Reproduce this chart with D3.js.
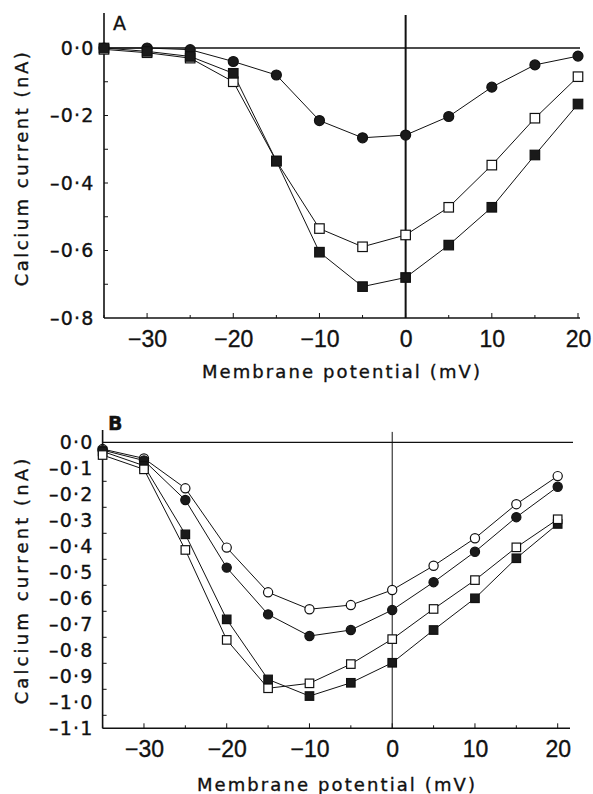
<!DOCTYPE html>
<html>
<head>
<meta charset="utf-8">
<script src="https://d3js.org/d3.v7.min.js"></script>
<style>
  body { margin: 0; background: #fff; }
  text { font-family: "DejaVu Sans", sans-serif; fill: #111; stroke: #111; stroke-width: 0.35px; }
</style>
</head>
<body>
<svg id="fig" width="593" height="794"></svg>
<script>
// membrane potential (mV), shared by every series
const potentials = [-35, -30, -25, -20, -15, -10, -5, 0, 5, 10, 15, 20];

// panel A, calcium current (nA)
const aCircles   = [0.0, 0.0, -0.005, -0.04, -0.08, -0.215, -0.266, -0.258, -0.203, -0.116, -0.05, -0.024];
const aOpenSq    = [-0.004, -0.014, -0.03, -0.1, -0.335, -0.535, -0.589, -0.554, -0.472, -0.347, -0.208, -0.085];
const aFilledSq  = [0.0, -0.01, -0.025, -0.075, -0.335, -0.605, -0.707, -0.68, -0.584, -0.472, -0.317, -0.166];

// panel B, calcium current (nA)
const bOpenCirc  = [-0.026, -0.062, -0.177, -0.405, -0.577, -0.642, -0.626, -0.568, -0.475, -0.369, -0.238, -0.13];
const bFillCirc  = [-0.03, -0.07, -0.222, -0.482, -0.662, -0.745, -0.722, -0.645, -0.538, -0.421, -0.288, -0.171];
const bFilledSq  = [-0.035, -0.09, -0.354, -0.681, -0.912, -0.976, -0.925, -0.848, -0.722, -0.6, -0.446, -0.314];
const bOpenSq    = [-0.049, -0.104, -0.414, -0.76, -0.946, -0.927, -0.853, -0.757, -0.641, -0.53, -0.404, -0.296];

const xTicks = [-30, -20, -10, 0, 10, 20];
const xMinor = [-35, -25, -15, -5, 5, 15];
const aYTicks = [0, -0.2, -0.4, -0.6, -0.8];
const bYTicks = [0, -0.1, -0.2, -0.3, -0.4, -0.5, -0.6, -0.7, -0.8, -0.9, -1.0, -1.1];

const svg = d3.select("#fig");
const fmt = v => (v < 0 ? "\u2013" : "") + Math.abs(v).toFixed(1).replace(".", "\u00b7");
const fmtX = v => (v < 0 ? "\u2212" : "") + Math.abs(v);

function panel(cfg) {
  const g = svg.append("g");
  const x = d3.scaleLinear().domain([-35, 20]).range(cfg.xr);
  const y = d3.scaleLinear().domain([0, cfg.ymin]).range(cfg.yr);

  // axes lines
  g.append("line").attr("x1", x(-35)).attr("x2", x(-35))
    .attr("y1", y(cfg.ytop)).attr("y2", y(cfg.ymin))
    .attr("stroke", "#111").attr("stroke-width", 1.6);
  g.append("line").attr("x1", x(-35)).attr("x2", cfg.xend)
    .attr("y1", y(cfg.ymin)).attr("y2", y(cfg.ymin))
    .attr("stroke", "#111").attr("stroke-width", 1.6);

  // zero lines
  g.append("line").attr("x1", x(-35)).attr("x2", cfg.zeroEnd)
    .attr("y1", y(0)).attr("y2", y(0))
    .attr("stroke", "#111").attr("stroke-width", cfg.zw);
  g.append("line").attr("x1", x(0)).attr("x2", x(0))
    .attr("y1", y(cfg.vtop)).attr("y2", y(cfg.ymin))
    .attr("stroke", "#111").attr("stroke-width", cfg.vw);

  // y axis
  const ya = d3.axisLeft(y).tickValues(cfg.yTicks).tickFormat(fmt).tickSize(0).tickPadding(cfg.ypad);
  const yg = g.append("g").attr("transform", `translate(${x(-35)},0)`).call(ya);
  yg.select(".domain").remove();
  yg.selectAll("text").style("font-size", "19px").style("letter-spacing", "1.2px")
    .style("font-family", "DejaVu Sans, sans-serif").attr("fill", "#111");
  g.selectAll(".ytk").data(cfg.yTickMarks).join("line")
    .attr("x1", x(-35)).attr("x2", x(-35) + 4)
    .attr("y1", d => y(d)).attr("y2", d => y(d))
    .attr("stroke", "#111").attr("stroke-width", 1);

  // x axis
  const xa = d3.axisBottom(x).tickValues(xTicks).tickFormat(fmtX).tickSize(0).tickPadding(12.5);
  const xg = g.append("g").attr("transform", `translate(0,${y(cfg.ymin)})`).call(xa);
  xg.select(".domain").remove();
  xg.selectAll("text").style("font-size", "23px")
    .style("font-family", "Liberation Sans, Arial, sans-serif").attr("fill", "#111");
  g.selectAll(".xtk").data(xTicks.concat(xMinor)).join("line")
    .attr("x1", d => x(d)).attr("x2", d => x(d))
    .attr("y1", y(cfg.ymin)).attr("y2", d => y(cfg.ymin) - (xTicks.includes(d) ? 5 : 3))
    .attr("stroke", "#111").attr("stroke-width", 1);

  // titles
  g.append("text").attr("x", cfg.xtitle[0]).attr("y", cfg.xtitle[1])
    .attr("text-anchor", "middle").style("font-size", "18px").style("letter-spacing", "2.1px")
    .text("Membrane potential (mV)");
  g.append("text")
    .attr("transform", `translate(${cfg.ytitle[0]},${cfg.ytitle[1]}) rotate(-90)`)
    .attr("text-anchor", "middle").style("font-size", "18px").style("letter-spacing", cfg.yls + "px")
    .text("Calcium current (nA)");
  g.append("text").attr("x", cfg.lab[0]).attr("y", cfg.lab[1])
    .style("font-size", "19px").style("font-weight", cfg.labW).text(cfg.label);

  // series
  const line = d3.line().x((d, i) => x(potentials[i])).y(d => y(d));
  cfg.series.forEach(s => {
    g.append("path").datum(s.values).attr("d", line)
      .attr("fill", "none").attr("stroke", "#111").attr("stroke-width", 1);
  });
  cfg.series.forEach(s => {
    const fill = s.open ? "#fff" : "#1a1a1a";
    if (s.shape === "circle") {
      g.selectAll(null).data(s.values).join("circle")
        .attr("cx", (d, i) => x(potentials[i])).attr("cy", d => y(d))
        .attr("r", cfg.r).attr("fill", fill).attr("stroke", "#111").attr("stroke-width", 1.2);
    } else {
      g.selectAll(null).data(s.values).join("rect")
        .attr("x", (d, i) => x(potentials[i]) - cfg.sq / 2).attr("y", d => y(d) - cfg.sq / 2)
        .attr("width", cfg.sq).attr("height", cfg.sq)
        .attr("fill", fill).attr("stroke", "#111").attr("stroke-width", 1.2);
    }
  });
}

panel({
  label: "A", lab: [113, 30], labW: "normal",
  xr: [104, 578], yr: [48, 318], ymin: -0.8, ytop: 0.104, vtop: 0.098,
  xend: 580, zeroEnd: 580, zw: 1.5, vw: 2,
  yTicks: aYTicks, yTickMarks: [-0.1, -0.2, -0.3, -0.4, -0.5, -0.6, -0.7],
  ypad: 9.5,
  xtitle: [342, 378], ytitle: [28, 168], yls: 2.5,
  r: 5, sq: 9.5,
  series: [
    { values: aCircles, shape: "circle", open: false },
    { values: aOpenSq, shape: "square", open: true },
    { values: aFilledSq, shape: "square", open: false }
  ]
});

panel({
  label: "B", lab: [108, 430], labW: "bold",
  xr: [102.6, 557.7], yr: [442.3, 728.3], ymin: -1.1, ytop: 0.047, vtop: 0.04,
  xend: 570, zeroEnd: 573, zw: 1.2, vw: 1,
  yTicks: bYTicks, yTickMarks: [-0.05, -0.15, -0.25, -0.35, -0.45, -0.55, -0.65, -0.75, -0.85, -0.95, -1.05],
  ypad: 9,
  xtitle: [337, 791], ytitle: [28, 580], yls: 3.1,
  r: 4.6, sq: 8.5,
  series: [
    { values: bOpenCirc, shape: "circle", open: true },
    { values: bFillCirc, shape: "circle", open: false },
    { values: bFilledSq, shape: "square", open: false },
    { values: bOpenSq, shape: "square", open: true }
  ]
});
</script>
</body>
</html>
